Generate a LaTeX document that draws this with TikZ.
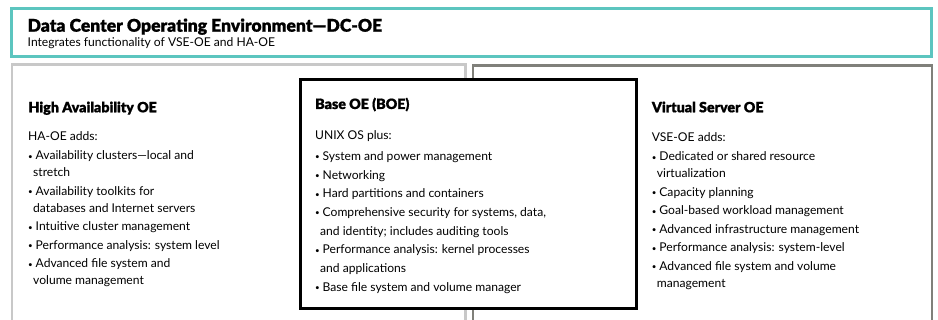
\documentclass[tikz,border=0pt]{standalone}
\usepackage{fontspec}
\setmainfont{Lato}
\newfontfamily\heavy[Ligatures=TeX,FakeBold=0.8]{Lato Black}
\definecolor{oeteal}{HTML}{5CC5BF}
\definecolor{oelight}{HTML}{C8C8C8}
\definecolor{oedark}{HTML}{80807A}
\newcommand{\itm}{\makebox[7.5pt][l]{\raisebox{0.6pt}{\fontsize{8}{8}\selectfont\textbullet}}}
\newcommand{\cnt}{\hspace*{5pt}}

\begin{document}
\begin{tikzpicture}
  [x=1pt,y=-1pt,every node/.style={inner sep=0pt,anchor=base west}]

  \tikzstyle{title} = [font=\fontsize{17.5}{22}\heavy]
  \tikzstyle{sub}   = [font=\fontsize{12.1}{16}\selectfont]
  \tikzstyle{head}  = [font=\fontsize{14.2}{16}\heavy]
  \tikzstyle{body}  = [align=left,font=\fontsize{12.1}{17}\selectfont]

  \useasboundingbox (0,0) rectangle (938,320);
  \fill[white] (0,0) rectangle (938,320);

  \draw[line width=2.5pt,oelight] (12.2,330) |- (465.5,64.7) -- (465.5,330);
  \draw[line width=2.5pt,oedark]  (472.8,330) |- (932.2,65.3) -- (932.2,330);
  \draw[line width=3pt,fill=white] (300.3,79.7) rectangle (636.7,308.3);
  \draw[line width=2.7pt,oeteal] (11.3,8.5) rectangle (931.5,56.3);

  \node[title] (dcoe)    at (27.5,31.7) {Data Center Operating Environment---DC-OE};
  \node[sub]   (dcoesub) at (27.5,46.7) {Integrates functionality of VSE-OE and HA-OE};

  \node[head] (ha)     at (28.3,112.3) {High Availability OE};
  \node[body] (halist) at (28,285)
    {HA-OE adds:\\[2.3pt]
     \itm Availability clusters---local and\\
     \cnt stretch\\[1.5pt]
     \itm Availability toolkits for\\
     \cnt databases and Internet servers\\[1.5pt]
     \itm Intuitive cluster management\\[1.5pt]
     \itm Performance analysis: system level\\[1.5pt]
     \itm Advanced file system and\\
     \cnt volume management};

  \node[head] (boe)     at (315,109) {Base OE (BOE)};
  \node[body,font=\fontsize{12.1}{18.7}\selectfont] (boelist) at (315,291.3)
    {UNIX OS plus:\\[2pt]
     \itm System and power management\\
     \itm Networking\\
     \itm Hard partitions and containers\\
     \itm Comprehensive security for systems, data,\\
     \cnt and identity; includes auditing tools\\
     \itm Performance analysis: kernel processes\\
     \cnt and applications\\
     \itm Base file system and volume manager};

  \node[head] (vse)     at (651.7,112.3) {Virtual Server OE};
  \node[body] (vselist) at (651.7,287.3)
    {VSE-OE adds:\\[2.3pt]
     \itm Dedicated or shared resource\\
     \cnt virtualization\\[1.5pt]
     \itm Capacity planning\\[1.5pt]
     \itm Goal-based workload management\\[1.5pt]
     \itm Advanced infrastructure management\\[1.5pt]
     \itm Performance analysis: system-level\\[1.5pt]
     \itm Advanced file system and volume\\
     \cnt management};
\end{tikzpicture}
\end{document}
